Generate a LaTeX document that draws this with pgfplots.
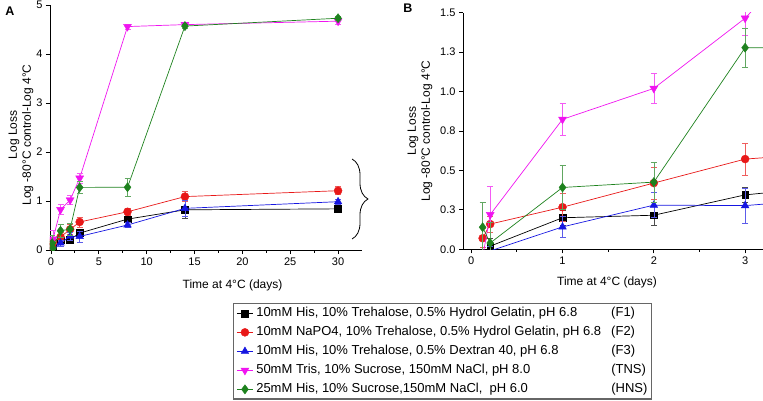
\documentclass[border=0pt]{standalone}
\usepackage{fontspec}
\setmainfont{Liberation Sans}
\usepackage{pgfplots}
\pgfplotsset{compat=1.18}
\usepackage{pgfplotstable}
\usetikzlibrary{decorations.pathreplacing}

\definecolor{cF1}{RGB}{0,0,0}
\definecolor{cF2}{RGB}{232,24,24}
\definecolor{cF3}{RGB}{22,22,225}
\definecolor{cTNS}{RGB}{240,20,240}
\definecolor{cHNS}{RGB}{30,130,30}

% time (days), log loss, error
\pgfplotstableread{
x y e
0.208 0.02 0.05
1 0.20 0.05
2 0.216 0.065
3 0.345 0.05
8 0.63 0.05
14 0.82 0.17
30 0.84 0.07
}\Fone
\pgfplotstableread{
x y e
0.125 0.07 0.06
0.208 0.16 0.05
1 0.267 0.09
2 0.42 0.1
3 0.572 0.1
8 0.78 0.08
14 1.09 0.1
30 1.21 0.08
}\Ftwo
\pgfplotstableread{
x y e
0.208 -0.01 0.03
1 0.142 0.066
2 0.28 0.08
3 0.277 0.11
8 0.51 0.05
14 0.85 0.17
30 0.986 0.05
}\Fthree
\pgfplotstableread{
x y e
0.125 -0.05 0
0.208 0.22 0.18
1 0.824 0.1
2 1.02 0.095
3 1.465 0.11
8 4.56 0.05
14 4.6 0.04
30 4.67 0.06
}\TNS
\pgfplotstableread{
x y e
0.125 0.14 0.16
0.208 0.04 0.13
1 0.392 0.14
2 0.426 0.125
3 1.278 0.125
8 1.28 0.19
14 4.57 0.04
30 4.73 0.04
}\HNS

\pgfplotsset{
  panel/.style={
    scale only axis,
    axis x line*=bottom, axis y line*=left,
    axis line style={-, line width=0.9pt},
    tick align=outside,
    major tick length=4pt, minor tick length=2.5pt,
    every tick/.style={black, line width=0.9pt},
    tick label style={font=\fontsize{11}{12}\selectfont},
    label style={font=\fontsize{12}{14}\selectfont},
    /pgf/number format/assume math mode=true,
    clip marker paths=true,
  },
  ser/.style={
    draw=#1, line width=0.7pt, mark size=3.6pt,
    mark options={solid, draw=#1, fill=#1, line width=0.4pt},
    error bars/y dir=both, error bars/y explicit,
    error bars/error bar style={draw=#1!70, line width=0.6pt},
    error bars/error mark options={rotate=90, draw=#1!70, mark size=3pt, line width=0.6pt},
  },
}

\begin{document}
\begin{tikzpicture}
\useasboundingbox (0pt,0pt) rectangle (763pt,400pt);

\begin{axis}[panel,
  at={(50pt,150pt)}, anchor=south west,
  width=312pt, height=245pt,
  xmin=-0.1, xmax=32.5, ymin=0, ymax=5,
  xtick={0,5,...,30}, minor x tick num=1,
  ytick={0,1,2,3,4,5},
  xlabel={Time at 4°C (days)},
  xlabel style={at={(axis description cs:0.585,0)}, anchor=north, yshift=-26pt},
  ylabel={Log Loss\\Log -80°C control-Log 4°C},
  ylabel style={align=center, at={(axis description cs:-0.042,0.47)}, anchor=south},
  legend style={at={(axis description cs:0.5865,-0.2163)}, anchor=north west,
    font=\fontsize{13}{15}\selectfont, draw=black!60, line width=1.2pt,
    inner xsep=3pt, inner ysep=2pt, row sep=3.5pt, column sep=2pt, cells={anchor=west},
    nodes={inner sep=1pt, text height=10pt, text depth=3.5pt}},
  legend image code/.code={\draw[mark repeat=2,mark phase=2,#1] plot coordinates {(0pt,0pt) (8pt,0pt) (16pt,0pt)};},
]
\addplot[mark=square*, ser=cF1, mark size=3.4pt] table[y error=e] {\Fone};
\addlegendentry{\makebox[355pt][l]{10mM His, 10\% Trehalose, 0.5\% Hydrol Gelatin, pH 6.8}(F1)}
\addplot[mark=*, ser=cF2, mark size=4pt] table[y error=e] {\Ftwo};
\addlegendentry{\makebox[355pt][l]{10mM NaPO4, 10\% Trehalose, 0.5\% Hydrol Gelatin, pH 6.8}(F2)}
\addplot[mark=triangle*, ser=cF3, mark size=4.4pt] table[y error=e] {\Fthree};
\addlegendentry{\makebox[355pt][l]{10mM His, 10\% Trehalose, 0.5\% Dextran 40, pH 6.8}(F3)}
\addplot[mark=triangle*, ser=cTNS, mark size=4.6pt, every mark/.append style={rotate=180}] table[y error=e] {\TNS};
\addlegendentry{\makebox[355pt][l]{50mM Tris, 10\% Sucrose, 150mM NaCl, pH 8.0}(TNS)}
\addplot[mark=diamond*, ser=cHNS, mark size=4.6pt] table[y error=e] {\HNS};
\addlegendentry{\makebox[355pt][l]{25mM His, 10\% Sucrose,150mM NaCl,\ \ pH 6.0}(HNS)}
\end{axis}

\begin{axis}[panel,
  at={(463pt,150.7pt)}, anchor=south west,
  width=300pt, height=236.6pt,
  xmin=-0.09, xmax=3.196, ymin=0, ymax=1.5,
  xtick={0,1,2,3}, minor x tick num=1,
  ytick={0,0.25,0.5,0.75,1,1.25,1.5},
  yticklabels={0.0,0.3,0.5,0.8,1.0,1.3,1.5},
  xlabel={Time at 4°C (days)},
  xlabel style={at={(axis description cs:0.48,0)}, anchor=north, yshift=-24pt},
  ylabel={Log Loss\\Log -80°C control-Log 4°C},
  ylabel style={align=center, at={(axis description cs:-0.09,0.5)}, anchor=south},
]
\addplot[mark=square*, ser=cF1, mark size=3.4pt] table[y error=e] {\Fone};
\addplot[mark=*, ser=cF2, mark size=4pt] table[y error=e] {\Ftwo};
\addplot[mark=triangle*, ser=cF3, mark size=4.4pt] table[y error=e] {\Fthree};
\addplot[mark=triangle*, ser=cTNS, mark size=4.6pt, every mark/.append style={rotate=180}] table[y error=e] {\TNS};
\addplot[mark=diamond*, ser=cHNS, mark size=4.6pt] table[y error=e] {\HNS};
\end{axis}

\node[font=\bfseries\fontsize{12.5}{14}\selectfont] at (10pt,389pt) {A};
\node[font=\bfseries\fontsize{12.5}{14}\selectfont] at (408pt,392pt) {B};
\draw[decorate, decoration={brace, amplitude=16pt}, line width=0.8pt] (352pt,241pt) -- (352pt,161pt);
\end{tikzpicture}
\end{document}
